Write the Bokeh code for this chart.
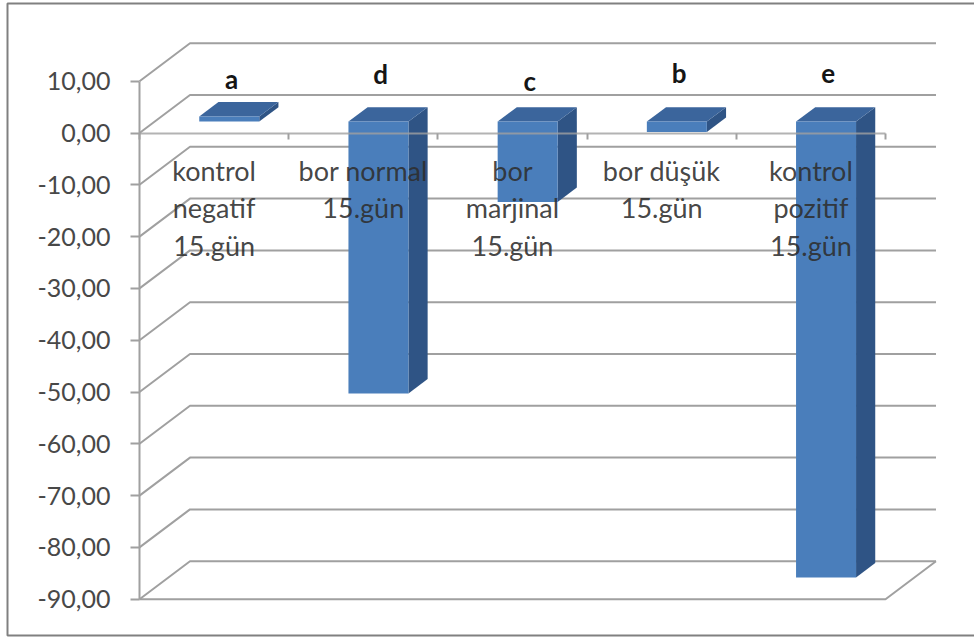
from bokeh.embed import file_html
from bokeh.resources import INLINE
from bokeh.core.properties import value
from bokeh.models import BoxAnnotation, FixedTicker, LinearAxis, Range1d
from bokeh.plotting import figure

# Series values
categories = ["kontrol\nnegatif\n15.gün", "bor normal\n15.gün", "bor\nmarjinal\n15.gün",
              "bor düşük\n15.gün", "kontrol\npozitif\n15.gün"]
values = [1.0, -52.5, -15.5, -2.0, -88.0]
letters = ["a", "d", "c", "b", "e"]
y_ticks = [10, 0, -10, -20, -30, -40, -50, -60, -70, -80, -90]
y_tick_labels = ["10,00", "0,00", "-10,00", "-20,00", "-30,00", "-40,00",
                 "-50,00", "-60,00", "-70,00", "-80,00", "-90,00"]

# Letter baselines, in value units above zero
letter_heights = [10.45, 11.45, 10.05, 11.65, 11.45]

WIDTH, HEIGHT = 974, 639
PX_X = 149.2       # pixels per category
PX_Y = 5.18        # pixels per value unit
ORIGIN_X, ORIGIN_Y = 139.0, 132.5

# Oblique projection: full depth of the chart box, in data units
DEPTH_X = 50.5 / PX_X
DEPTH_Y = 38.0 / PX_Y
BAR_WIDTH = 60.0 / PX_X
BAR_NEAR, BAR_FAR = 0.30, 0.68
N = len(categories)

GRID = "#a0a0a0"
TEXT = "#484848"
FRONT, TOP, SIDE = "#4a7ebb", "#3b659c", "#2f5485"
FONT = "Lato"

p = figure(width=WIDTH, height=HEIGHT, output_backend="svg", toolbar_location=None,
           x_range=Range1d(-ORIGIN_X / PX_X, (WIDTH - ORIGIN_X) / PX_X),
           y_range=Range1d((ORIGIN_Y - HEIGHT) / PX_Y, ORIGIN_Y / PX_Y),
           x_axis_type=None, y_axis_type=None,
           min_border=0, outline_line_color=None,
           background_fill_color="white", border_fill_color="white")
p.grid.visible = False

# Picture frame around the chart, open on the right
p.add_layout(BoxAnnotation(left=7, right=WIDTH + 20, top=3, bottom=635,
                           left_units="canvas", right_units="canvas",
                           top_units="canvas", bottom_units="canvas",
                           fill_alpha=0, line_color="#808080", line_alpha=1, line_width=2))

# Gridlines on the side wall and back wall, plus the floor
xs, ys = [], []
for t in y_ticks:
    xs.append([0, DEPTH_X, N + DEPTH_X])
    ys.append([t, t + DEPTH_Y, t + DEPTH_Y])
p.multi_line(xs, ys, line_color=GRID, line_width=2)
floor = min(y_ticks)
p.line([0, N, N + DEPTH_X], [floor, floor, floor + DEPTH_Y], line_color=GRID, line_width=2)

# Extruded bars
for i, v in enumerate(values):
    x0 = i + 0.5 - BAR_WIDTH / 2 + BAR_NEAR * DEPTH_X
    x1 = x0 + BAR_WIDTH
    hi, lo = max(v, 0), min(v, 0)
    near_y = BAR_NEAR * DEPTH_Y
    dx = (BAR_FAR - BAR_NEAR) * DEPTH_X
    dy = (BAR_FAR - BAR_NEAR) * DEPTH_Y
    p.patch([x1, x1 + dx, x1 + dx, x1],
            [hi + near_y, hi + near_y + dy, lo + near_y + dy, lo + near_y],
            fill_color=SIDE, line_color=None)
    p.patch([x0, x0 + dx, x1 + dx, x1],
            [hi + near_y, hi + near_y + dy, hi + near_y + dy, hi + near_y],
            fill_color=TOP, line_color=None)
    p.quad(left=x0, right=x1, top=hi + near_y, bottom=lo + near_y,
           fill_color=FRONT, line_color=None)

# Significance letters above each bar
p.text([i + 0.515 + BAR_NEAR * DEPTH_X for i in range(N)], letter_heights, text=letters,
       text_font=value(FONT), text_font_style="bold", text_font_size="26px",
       text_color="#151515", text_align="center", text_baseline="middle")

# Value axis
y_axis = LinearAxis(fixed_location=0, bounds=(floor, max(y_ticks)),
                    ticker=FixedTicker(ticks=y_ticks),
                    major_label_overrides=dict(zip(y_ticks, y_tick_labels)),
                    major_tick_out=9, major_tick_in=0, minor_tick_line_color=None,
                    axis_line_color=GRID, axis_line_width=2,
                    major_tick_line_color=GRID, major_tick_line_width=2,
                    major_label_standoff=20, major_label_text_color=TEXT,
                    major_label_text_font=FONT, major_label_text_font_size="25px")
p.add_layout(y_axis, "left")

# Category axis: ticks between categories
x_edges = list(range(N + 1))
x_axis = LinearAxis(fixed_location=0, bounds=(0, N), ticker=FixedTicker(ticks=x_edges),
                    major_label_overrides={e: "" for e in x_edges},
                    major_tick_out=6, major_tick_in=0, minor_tick_line_color=None,
                    axis_line_color=GRID, axis_line_alpha=0.8, axis_line_width=2,
                    major_tick_line_color=GRID, major_tick_line_width=2)
p.add_layout(x_axis, "below")

# Category names, centred on each slot
centers = [i + 0.5 for i in range(N)]
label_axis = LinearAxis(fixed_location=0, ticker=FixedTicker(ticks=centers),
                        major_label_overrides=dict(zip(centers, categories)),
                        axis_line_color=None, major_tick_line_color=None,
                        minor_tick_line_color=None,
                        major_tick_out=0, major_tick_in=0, major_label_standoff=21,
                        major_label_text_color="#2e2e2e", major_label_text_alpha=0.9,
                        major_label_text_font=FONT, major_label_text_font_size="27px",
                        major_label_text_align="center", major_label_text_line_height=1.13)
p.add_layout(label_axis, "below")

open("out.html", "w").write(file_html(p, INLINE))
